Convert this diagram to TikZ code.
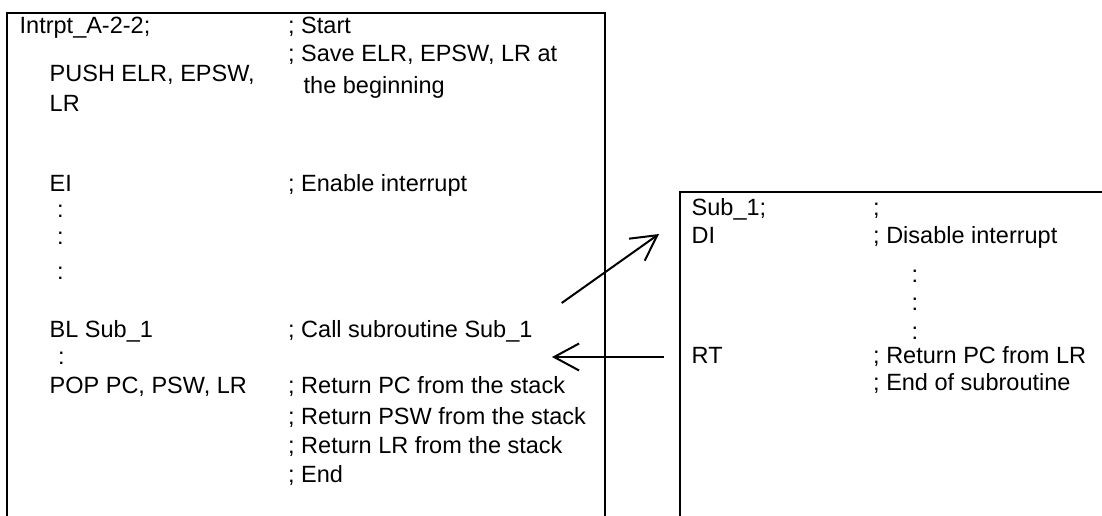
\documentclass[tikz,border=0pt]{standalone}
\usepackage{fontspec}
\setmainfont{Liberation Sans}
\usetikzlibrary{arrows.meta}
\begin{document}
\begin{tikzpicture}[x=1pt,y=-1pt,
  txt/.style={anchor=base west, inner sep=0pt, font=\fontsize{23.5}{28}\selectfont},
  frame/.style={line width=2pt},
  conn/.style={line width=2pt, -{Straight Barb[length=25pt,width=27pt,line width=2pt]}}]
\useasboundingbox (0,0) rectangle (1102,515);
% frames (open at the bottom / right)
\draw[frame] (7,516) -- (7,12.7) -- (605,12.7) -- (605,516);
\draw[frame] (680,516) -- (680,192) -- (1103,192);
% left program
\node[txt] (a1) at (19.5,33.5) {Intrpt\_A-2-2;};
\node[txt] (a2) at (49.5,81.5) {PUSH ELR, EPSW,};
\node[txt] (a3) at (49.5,111.5) {LR};
\node[txt] (a4) at (49.5,191.5) {EI};
\node[txt] (a5) at (57,217) {:};
\node[txt] (a6) at (57,244) {:};
\node[txt] (a7) at (57,279) {:};
\node[txt] (a8) at (49.5,337.5) {BL Sub\_1};
\node[txt] (a9) at (58,364) {:};
\node[txt] (a10) at (49.5,393.5) {POP PC, PSW, LR};
\node[txt] (b1) at (288,33.5) {; Start};
\node[txt] (b2) at (288,61.5) {; Save ELR, EPSW, LR at};
\node[txt] (b3) at (303.5,93.5) {the beginning};
\node[txt] (b4) at (288,191.5) {; Enable interrupt};
\node[txt] (b5) at (288,337.5) {; Call subroutine Sub\_1};
\node[txt] (b6) at (288,393.5) {; Return PC from the stack};
\node[txt] (b7) at (288,424.5) {; Return PSW from the stack};
\node[txt] (b8) at (288,453.5) {; Return LR from the stack};
\node[txt] (b9) at (288,482.5) {; End};
% subroutine
\node[txt] (c1) at (691.5,215.5) {Sub\_1;};
\node[txt] (c2) at (691.5,243.5) {DI};
\node[txt] (c3) at (691.5,363.5) {RT};
\node[txt] (d1) at (873,215.5) {;};
\node[txt] (d2) at (873,243.5) {; Disable interrupt};
\node[txt] (d3) at (911.5,282) {:};
\node[txt] (d4) at (911.5,310) {:};
\node[txt] (d5) at (911.5,339) {:};
\node[txt] (d6) at (873,363.5) {; Return PC from LR};
\node[txt] (d7) at (873,390.5) {; End of subroutine};
% connectors
\coordinate (callfrom) at (561.7,303);
\coordinate (callto) at (659,234);
\coordinate (retfrom) at (664,357);
\coordinate (retto) at (552,357);
\draw[conn] (callfrom) -- (callto);
\draw[conn] (retfrom) -- (retto);
\end{tikzpicture}
\end{document}
